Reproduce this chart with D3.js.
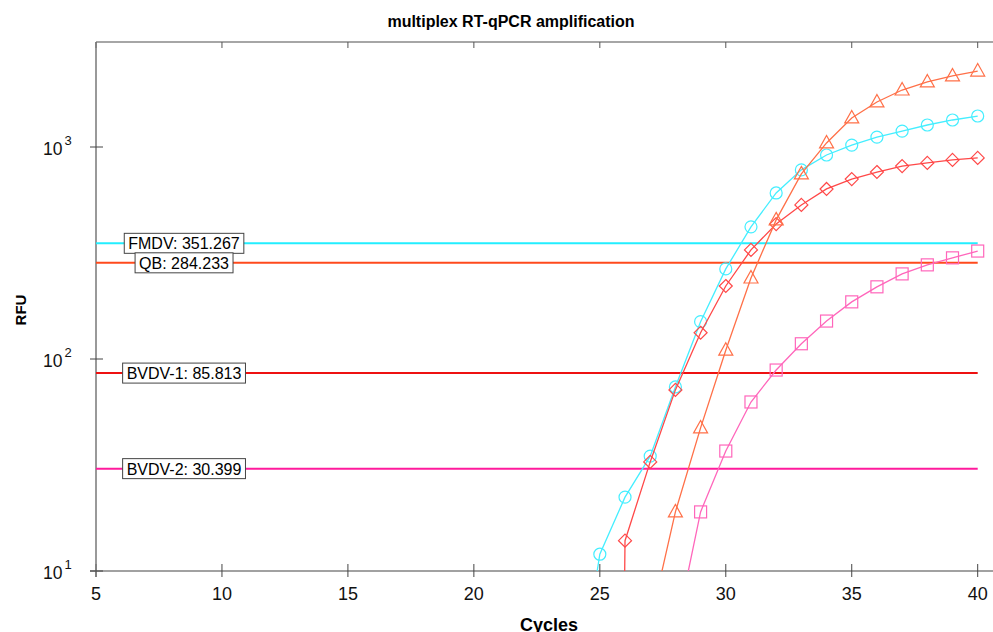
<!DOCTYPE html>
<html>
<head>
<meta charset="utf-8">
<script src="https://cdn.jsdelivr.net/npm/d3@7"></script>
<style>
  body { margin: 0; background: #fff; }
  svg { display: block; font-family: "Liberation Sans", Arial, sans-serif; }
</style>
</head>
<body>
<div id="chart"></div>
<script>
// cycles for each curve (first point of each sits below the axis and is clipped)
var fmdvCycles = [24, 25, 26, 27, 28, 29, 30, 31, 32, 33, 34, 35, 36, 37, 38, 39, 40];
var fmdvRfu = [2.1, 12.0, 22.3, 34.8, 73.8, 150, 266, 420, 607, 780, 917, 1021, 1114, 1189, 1270, 1341, 1400];

var bvdv1Cycles = [25, 26, 27, 28, 29, 30, 31, 32, 33, 34, 35, 36, 37, 38, 39, 40];
var bvdv1Rfu = [1e-10, 13.9, 32.7, 71.5, 133, 221, 327, 433, 533, 634, 706, 762, 813, 841, 869, 888];

var qbCycles = [27, 28, 29, 30, 31, 32, 33, 34, 35, 36, 37, 38, 39, 40];
var qbRfu = [5.7, 19.0, 47.3, 110, 241, 453, 747, 1045, 1371, 1631, 1857, 2027, 2163, 2281];

var bvdv2Cycles = [28, 29, 30, 31, 32, 33, 34, 35, 36, 37, 38, 39, 40];
var bvdv2Rfu = [5.1, 19.0, 36.8, 62.7, 88.7, 118, 151, 186, 219, 252, 278, 300, 323];

// thresholds
var thresholdNames = ["FMDV", "QB", "BVDV-1", "BVDV-2"];
var thresholdValues = [351.267, 284.233, 85.813, 30.399];
var thresholdColors = ["#22eeff", "#ff4a1c", "#ee1111", "#ff1a9c"];

var xTicks = [5, 10, 15, 20, 25, 30, 35, 40];
var yTicks = [10, 100, 1000];

var W = 993, H = 632;
var svg = d3.select("#chart").append("svg")
  .attr("width", W)
  .attr("height", H);

var pLeft = 96, pTop = 42, pBottom = 571, pRight = 993;

var x = d3.scaleLinear().domain([5, 40]).range([pLeft, 977.7]);
var y = d3.scaleLog().domain([10, Math.pow(10, 3 + 105 / 212)]).range([pBottom, pTop]);

// clip
svg.append("defs").append("clipPath").attr("id", "plotclip")
  .append("rect")
  .attr("x", pLeft).attr("y", pTop)
  .attr("width", pRight - pLeft).attr("height", pBottom - pTop);

// title
svg.append("text")
  .attr("x", 511).attr("y", 27)
  .attr("text-anchor", "middle")
  .style("font-size", "16px")
  .style("font-weight", "bold")
  .text("multiplex RT-qPCR amplification");

// top border with inward ticks
svg.append("line")
  .attr("x1", pLeft).attr("x2", pRight)
  .attr("y1", pTop).attr("y2", pTop)
  .attr("stroke", "#888").attr("stroke-width", 1.5);
svg.selectAll(".toptick").data(xTicks).enter().append("line")
  .attr("x1", function(d) { return x(d); }).attr("x2", function(d) { return x(d); })
  .attr("y1", pTop).attr("y2", pTop + 6)
  .attr("stroke", "#555").attr("stroke-width", 1);

// x axis
svg.append("line")
  .attr("x1", pLeft - 6).attr("x2", pRight)
  .attr("y1", pBottom).attr("y2", pBottom)
  .attr("stroke", "#444").attr("stroke-width", 1.2);
var xg = svg.selectAll(".xtick").data(xTicks).enter().append("g");
xg.append("line")
  .attr("x1", function(d) { return x(d); }).attr("x2", function(d) { return x(d); })
  .attr("y1", pBottom - 7).attr("y2", pBottom + 6)
  .attr("stroke", "#444").attr("stroke-width", 1);
xg.append("text")
  .attr("x", function(d) { return x(d); })
  .attr("y", pBottom + 29)
  .attr("text-anchor", "middle")
  .style("font-size", "18px")
  .attr("fill", "#111")
  .text(function(d) { return d; });

svg.append("text")
  .attr("x", 549).attr("y", 631)
  .attr("text-anchor", "middle")
  .style("font-size", "18px")
  .style("font-weight", "bold")
  .text("Cycles");

// y axis
svg.append("line")
  .attr("x1", pLeft).attr("x2", pLeft)
  .attr("y1", pTop).attr("y2", pBottom + 6)
  .attr("stroke", "#777").attr("stroke-width", 1.5);
var yg = svg.selectAll(".ytick").data(yTicks).enter().append("g");
yg.append("line")
  .attr("x1", pLeft - 6).attr("x2", pLeft + 7)
  .attr("y1", function(d) { return y(d); }).attr("y2", function(d) { return y(d); })
  .attr("stroke", "#444").attr("stroke-width", 1);
var yl = yg.append("text")
  .attr("x", 43)
  .attr("y", function(d) { return y(d) + 8; })
  .attr("text-anchor", "start")
  .style("font-size", "17.5px")
  .attr("fill", "#111");
yl.append("tspan").text("10");
yl.append("tspan")
  .attr("dx", 2)
  .attr("dy", -10)
  .style("font-size", "13px")
  .text(function(d) { return Math.round(Math.log10(d)); });

svg.append("text")
  .attr("transform", "translate(26,310) rotate(-90)")
  .attr("text-anchor", "middle")
  .style("font-size", "15px")
  .style("font-weight", "bold")
  .text("RFU");

// threshold lines
var plot = svg.append("g").attr("clip-path", "url(#plotclip)");
thresholdValues.forEach(function(v, i) {
  plot.append("line")
    .attr("x1", pLeft).attr("x2", x(40))
    .attr("y1", y(v)).attr("y2", y(v))
    .attr("stroke", thresholdColors[i]).attr("stroke-width", 2);
});

// curves
var curves = [
  { c: fmdvCycles, v: fmdvRfu, color: "#44eeff", shape: "circle" },
  { c: bvdv1Cycles, v: bvdv1Rfu, color: "#ff4848", shape: "diamond" },
  { c: qbCycles, v: qbRfu, color: "#ff7048", shape: "triangle" },
  { c: bvdv2Cycles, v: bvdv2Rfu, color: "#ff66bb", shape: "square" }
];

var line = d3.line()
  .x(function(d) { return x(d[0]); })
  .y(function(d) { return y(d[1]); });

curves.forEach(function(s) {
  var pts = s.c.map(function(c, i) { return [c, s.v[i]]; });
  plot.append("path")
    .attr("d", line(pts))
    .attr("fill", "none")
    .attr("stroke", s.color)
    .attr("stroke-width", 1.3);

  var g = plot.append("g");
  pts.forEach(function(p) {
    var px = x(p[0]), py = y(p[1]);
    if (py > pBottom + 10) return;
    var m;
    if (s.shape === "circle") {
      m = g.append("circle").attr("cx", px).attr("cy", py).attr("r", 6);
    } else if (s.shape === "square") {
      m = g.append("rect").attr("x", px - 6).attr("y", py - 6).attr("width", 12).attr("height", 12);
    } else if (s.shape === "diamond") {
      m = g.append("path").attr("d", "M" + px + "," + (py - 6.5) + "L" + (px + 6.5) + "," + py + "L" + px + "," + (py + 6.5) + "L" + (px - 6.5) + "," + py + "Z");
    } else {
      m = g.append("path").attr("d", "M" + px + "," + (py - 7.5) + "L" + (px + 7) + "," + (py + 5) + "L" + (px - 7) + "," + (py + 5) + "Z");
    }
    m.attr("fill", "none").attr("stroke", s.color).attr("stroke-width", 1.2);
  });
});

// threshold labels
thresholdValues.forEach(function(v, i) {
  var t = svg.append("text")
    .attr("x", 184)
    .attr("y", y(v) + 6)
    .attr("text-anchor", "middle")
    .style("font-size", "16px")
    .attr("fill", "#000")
    .text(thresholdNames[i] + ": " + v.toFixed(3));
  var bb = t.node().getBBox();
  svg.insert("rect", function() { return t.node(); })
    .attr("x", bb.x - 4).attr("y", y(v) - 10)
    .attr("width", bb.width + 8).attr("height", 20)
    .attr("fill", "#fff")
    .attr("stroke", "#444").attr("stroke-width", 1);
});
</script>
</body>
</html>
